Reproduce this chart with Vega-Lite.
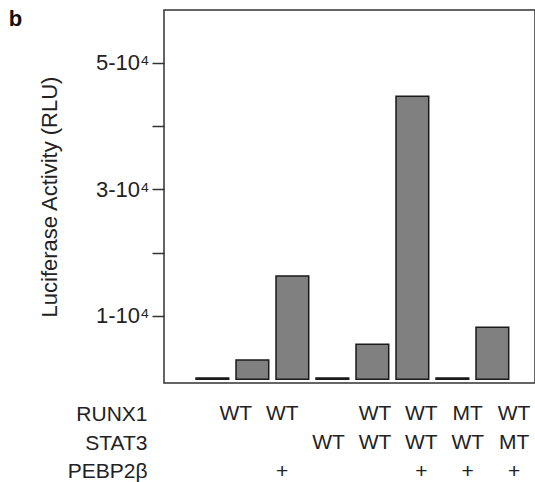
{
  "$schema": "https://vega.github.io/schema/vega-lite/v6.json",
  "padding": {"left": 8, "top": 8, "right": 0, "bottom": 0},
  "background": "white",
  "title": {"text": "b", "anchor": "start", "frame": "bounds", "fontSize": 22, "fontWeight": "bold", "font": "Liberation Sans", "color": "#111", "offset": -22, "dx": -29},
  "datasets": {
    "bars": [
      {"col": "c1", "value": 200},
      {"col": "c2", "value": 3050},
      {"col": "c3", "value": 16300},
      {"col": "c4", "value": 200},
      {"col": "c5", "value": 5530},
      {"col": "c6", "value": 44700},
      {"col": "c7", "value": 200},
      {"col": "c8", "value": 8200}
    ],
    "table": [
      {"col": "c2", "row": "RUNX1", "val": "WT"},
      {"col": "c3", "row": "RUNX1", "val": "WT"},
      {"col": "c5", "row": "RUNX1", "val": "WT"},
      {"col": "c6", "row": "RUNX1", "val": "WT"},
      {"col": "c7", "row": "RUNX1", "val": "MT"},
      {"col": "c8", "row": "RUNX1", "val": "WT"},
      {"col": "c4", "row": "STAT3", "val": "WT"},
      {"col": "c5", "row": "STAT3", "val": "WT"},
      {"col": "c6", "row": "STAT3", "val": "WT"},
      {"col": "c7", "row": "STAT3", "val": "WT"},
      {"col": "c8", "row": "STAT3", "val": "MT"},
      {"col": "c3", "row": "PEBP2β", "val": "+"},
      {"col": "c6", "row": "PEBP2β", "val": "+"},
      {"col": "c7", "row": "PEBP2β", "val": "+"},
      {"col": "c8", "row": "PEBP2β", "val": "+"}
    ]
  },
  "spacing": 19,
  "resolve": {"scale": {"x": "independent", "y": "independent"}},
  "vconcat": [
    {
      "width": 371,
      "height": 373,
      "data": {"name": "bars"},
      "view": {"stroke": "#333", "strokeWidth": 1.5},
      "mark": {"type": "bar", "color": "#808080", "stroke": "#1a1a1a", "strokeWidth": 1.5},
      "encoding": {
        "x": {
          "field": "col", "type": "nominal",
          "sort": ["c1","c2","c3","c4","c5","c6","c7","c8"],
          "scale": {"domain": ["c1","c2","c3","c4","c5","c6","c7","c8"], "paddingInner": 0.1825, "paddingOuter": 0.729, "align": 0.549},
          "axis": null
        },
        "y": {
          "field": "value", "type": "quantitative",
          "scale": {"domain": [-600, 58300], "nice": false, "zero": false},
          "axis": {
            "title": "Luciferase Activity (RLU)",
            "titleFont": "Liberation Sans", "titleFontSize": 22, "titleFontWeight": "normal", "titleColor": "#222", "titlePadding": 34,
            "values": [10000, 20000, 30000, 40000, 50000],
            "labelExpr": "datum.value == 10000 ? '1-10⁴' : datum.value == 30000 ? '3-10⁴' : datum.value == 50000 ? '5-10⁴' : ''",
            "labelFont": "Liberation Sans", "labelFontSize": 22, "labelColor": "#222", "labelPadding": 3, "labelOverlap": false,
            "tickSize": 12, "tickColor": "#333", "tickWidth": 1.5,
            "domain": false, "grid": false
          }
        }
      }
    },
    {
      "width": 371,
      "height": 78,
      "data": {"name": "table"},
      "view": {"stroke": null},
      "mark": {"type": "text", "font": "Liberation Sans", "fontSize": 21, "color": "#222", "baseline": "middle", "align": "center"},
      "encoding": {
        "x": {
          "field": "col", "type": "nominal",
          "scale": {"domain": ["c1","c2","c3","c4","c5","c6","c7","c8"], "paddingInner": 0.1825, "paddingOuter": 0.729, "align": 0.549},
          "axis": null
        },
        "y": {
          "field": "row", "type": "nominal",
          "scale": {"type": "point", "domain": ["RUNX1", "STAT3", "PEBP2β"], "padding": 0.35},
          "axis": {"title": null, "domain": false, "ticks": false, "labelPadding": 17, "labelFont": "Liberation Sans", "labelFontSize": 21, "labelColor": "#222"}
        },
        "text": {"field": "val"}
      }
    }
  ]
}
